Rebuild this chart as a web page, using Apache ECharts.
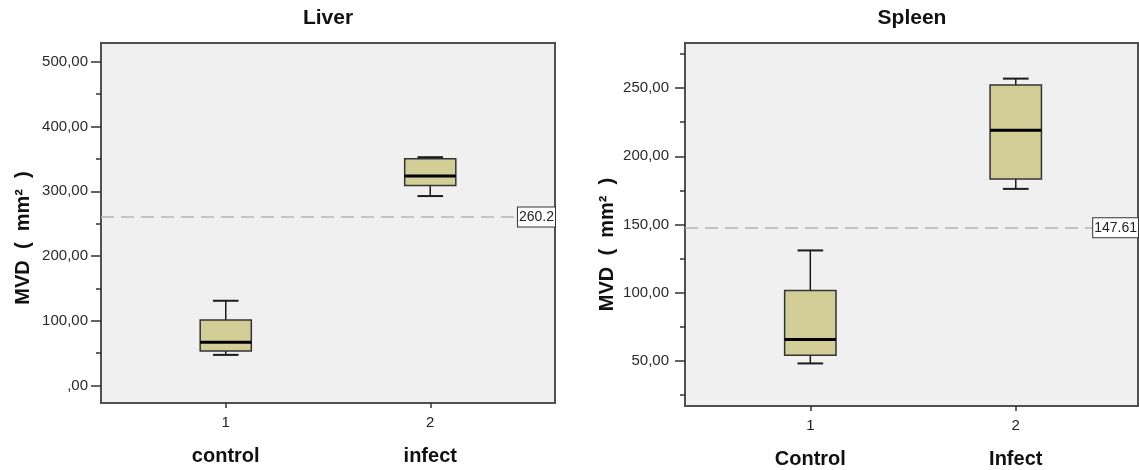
<!DOCTYPE html>
<html>
<head>
<meta charset="utf-8">
<script src="https://cdn.jsdelivr.net/npm/echarts@6.0.0/dist/echarts.min.js"></script>
<style>
  html, body { margin: 0; padding: 0; background: #fff; }
  #chart { width: 1139px; height: 470px; }
</style>
</head>
<body>
<div id="chart"></div>
<script>
// 横轴刻度与分组
const xTickValues = [1, 2];
const xTickLabels = ['1', '2'];

// Liver 箱线图数据
const liverGroups = ['control', 'infect'];
const liverMin = [47.3, 292.6];
const liverQ1 = [53.4, 309.0];
const liverMedian = [66.8, 323.4];
const liverQ3 = [101.2, 350.2];
const liverMax = [130.9, 352.6];
const liverMean = 260.2;
const liverTicks = [0, 100, 200, 300, 400, 500];
const liverMinorTicks = [50, 150, 250, 350, 450];

// Spleen 箱线图数据
const spleenGroups = ['Control', 'Infect'];
const spleenMin = [48.2, 176.1];
const spleenQ1 = [54.1, 183.4];
const spleenMedian = [65.8, 219.0];
const spleenQ3 = [101.7, 252.3];
const spleenMax = [131.0, 256.9];
const spleenMean = 147.61;
const spleenTicks = [50, 100, 150, 200, 250];
const spleenMinorTicks = [25, 75, 125, 175, 225, 275];

const font = '"Liberation Sans", Arial, sans-serif';

// 箱子宽度（横轴单位）
const BOX_W = 0.25;

const renderBox = (params, api) => {
  const x = api.value(0);
  const lo = api.coord([x, api.value(1)]);
  const q1 = api.coord([x, api.value(2)]);
  const md = api.coord([x, api.value(3)]);
  const q3 = api.coord([x, api.value(4)]);
  const hi = api.coord([x, api.value(5)]);
  const w = api.size([BOX_W, 0])[0];
  const cx = md[0];
  const line = (x1, y1, x2, y2, width, color) => ({
    type: 'line',
    shape: { x1, y1, x2, y2 },
    style: { stroke: color || '#1a1a1a', lineWidth: width }
  });
  return {
    type: 'group',
    children: [
      line(cx, hi[1], cx, q3[1], 1.5),
      line(cx, q1[1], cx, lo[1], 1.5),
      line(cx - w / 4, hi[1], cx + w / 4, hi[1], 2),
      line(cx - w / 4, lo[1], cx + w / 4, lo[1], 2),
      {
        type: 'rect',
        shape: { x: cx - w / 2, y: q3[1], width: w, height: q1[1] - q3[1] },
        style: { fill: '#d3ce97', stroke: '#333', lineWidth: 1.5 }
      },
      line(cx - w / 2, md[1], cx + w / 2, md[1], 3, '#000')
    ]
  };
};

const fmtComma = (v) => v === 0 ? ',00' : v.toFixed(2).replace('.', ',');

const makeX = (gridIndex, groups, max) => ({
  gridIndex,
  type: 'value',
  min: 0.39,
  max,
  axisLine: { show: false, onZero: false },
  splitLine: { show: false },
  axisTick: {
    customValues: xTickValues,
    length: 5,
    lineStyle: { color: '#333', width: 1.5 }
  },
  axisLabel: {
    customValues: xTickValues,
    margin: 10,
    formatter: (v) => {
      const i = xTickValues.indexOf(v);
      return `{n|${xTickLabels[i]}}\n{c|${groups[i]}}`;
    },
    rich: {
      n: { fontSize: 15, lineHeight: 20, color: '#222', fontFamily: font },
      c: { fontSize: 20, lineHeight: 46, fontWeight: 'bold', color: '#111', fontFamily: font }
    }
  }
});

const makeY = (gridIndex, min, max, ticks, namePad, labelMargin) => ({
  gridIndex,
  type: 'value',
  position: 'left',
  min,
  max,
  name: 'MVD  (  mm²  )',
  nameLocation: 'middle',
  nameGap: 68,
  nameTextStyle: {
    fontSize: 20,
    fontWeight: 'bold',
    color: '#111',
    fontFamily: font,
    padding: [0, namePad, 0, 0]
  },
  axisLine: { show: false, onZero: false },
  splitLine: { show: false },
  axisTick: {
    customValues: ticks,
    length: 10,
    lineStyle: { color: '#333', width: 1.5 }
  },
  axisLabel: {
    customValues: ticks,
    margin: labelMargin,
    fontSize: 15,
    color: '#2a2a2a',
    fontFamily: font,
    formatter: fmtComma
  }
});

// 次刻度
const makeMinorY = (gridIndex, min, max, ticks) => ({
  gridIndex,
  type: 'value',
  position: 'left',
  min,
  max,
  axisLine: { show: false, onZero: false },
  splitLine: { show: false },
  axisLabel: { show: false },
  axisTick: {
    customValues: ticks,
    length: 5,
    lineStyle: { color: '#333', width: 1.5 }
  }
});

const toData = (mins, q1s, meds, q3s, maxs) =>
  xTickValues.map((x, i) => [x, mins[i], q1s[i], meds[i], q3s[i], maxs[i]]);

const meanLine = (value) => ({
  symbol: 'none',
  silent: true,
  animation: false,
  lineStyle: { type: [13, 7], color: '#b4b4b4', width: 1.5 },
  label: {
    position: 'insideEnd',
    distance: 0,
    align: 'right',
    verticalAlign: 'middle',
    formatter: String(value),
    fontSize: 14,
    color: '#222',
    fontFamily: font,
    backgroundColor: '#fff',
    borderColor: '#333',
    borderWidth: 1,
    padding: [3, 1, 2, 1]
  },
  data: [{ yAxis: value }]
});

const chart = echarts.init(document.getElementById('chart'));
chart.setOption({
  animation: false,
  textStyle: { fontFamily: font },
  title: [
    { text: 'Liver', left: 328, top: 8, padding: 0, textAlign: 'center',
      textStyle: { fontSize: 21, fontWeight: 'bold', color: '#111', fontFamily: font } },
    { text: 'Spleen', left: 912, top: 8, padding: 0, textAlign: 'center',
      textStyle: { fontSize: 21, fontWeight: 'bold', color: '#111', fontFamily: font } }
  ],
  grid: [
    { left: 101, top: 43, width: 454, height: 360, show: true, backgroundColor: '#f0f0f0',
      borderColor: '#505050', borderWidth: 2, outerBoundsMode: 'none' },
    { left: 685, top: 43, width: 453, height: 363, show: true, backgroundColor: '#f0f0f0',
      borderColor: '#505050', borderWidth: 2, outerBoundsMode: 'none' }
  ],
  xAxis: [
    makeX(0, liverGroups, 2.61),
    makeX(1, spleenGroups, 2.595)
  ],
  yAxis: [
    makeY(0, -27, 529, liverTicks, 30, 13),
    makeMinorY(0, -27, 529, liverMinorTicks),
    makeY(1, 17, 283, spleenTicks, 40, 16),
    makeMinorY(1, 17, 283, spleenMinorTicks)
  ],
  series: [
    {
      type: 'custom',
      xAxisIndex: 0,
      yAxisIndex: 0,
      renderItem: renderBox,
      encode: { x: 0, y: [1, 2, 3, 4, 5] },
      data: toData(liverMin, liverQ1, liverMedian, liverQ3, liverMax),
      markLine: meanLine(liverMean)
    },
    {
      type: 'custom',
      xAxisIndex: 1,
      yAxisIndex: 2,
      renderItem: renderBox,
      encode: { x: 0, y: [1, 2, 3, 4, 5] },
      data: toData(spleenMin, spleenQ1, spleenMedian, spleenQ3, spleenMax),
      markLine: meanLine(spleenMean)
    }
  ]
});
</script>
</body>
</html>
